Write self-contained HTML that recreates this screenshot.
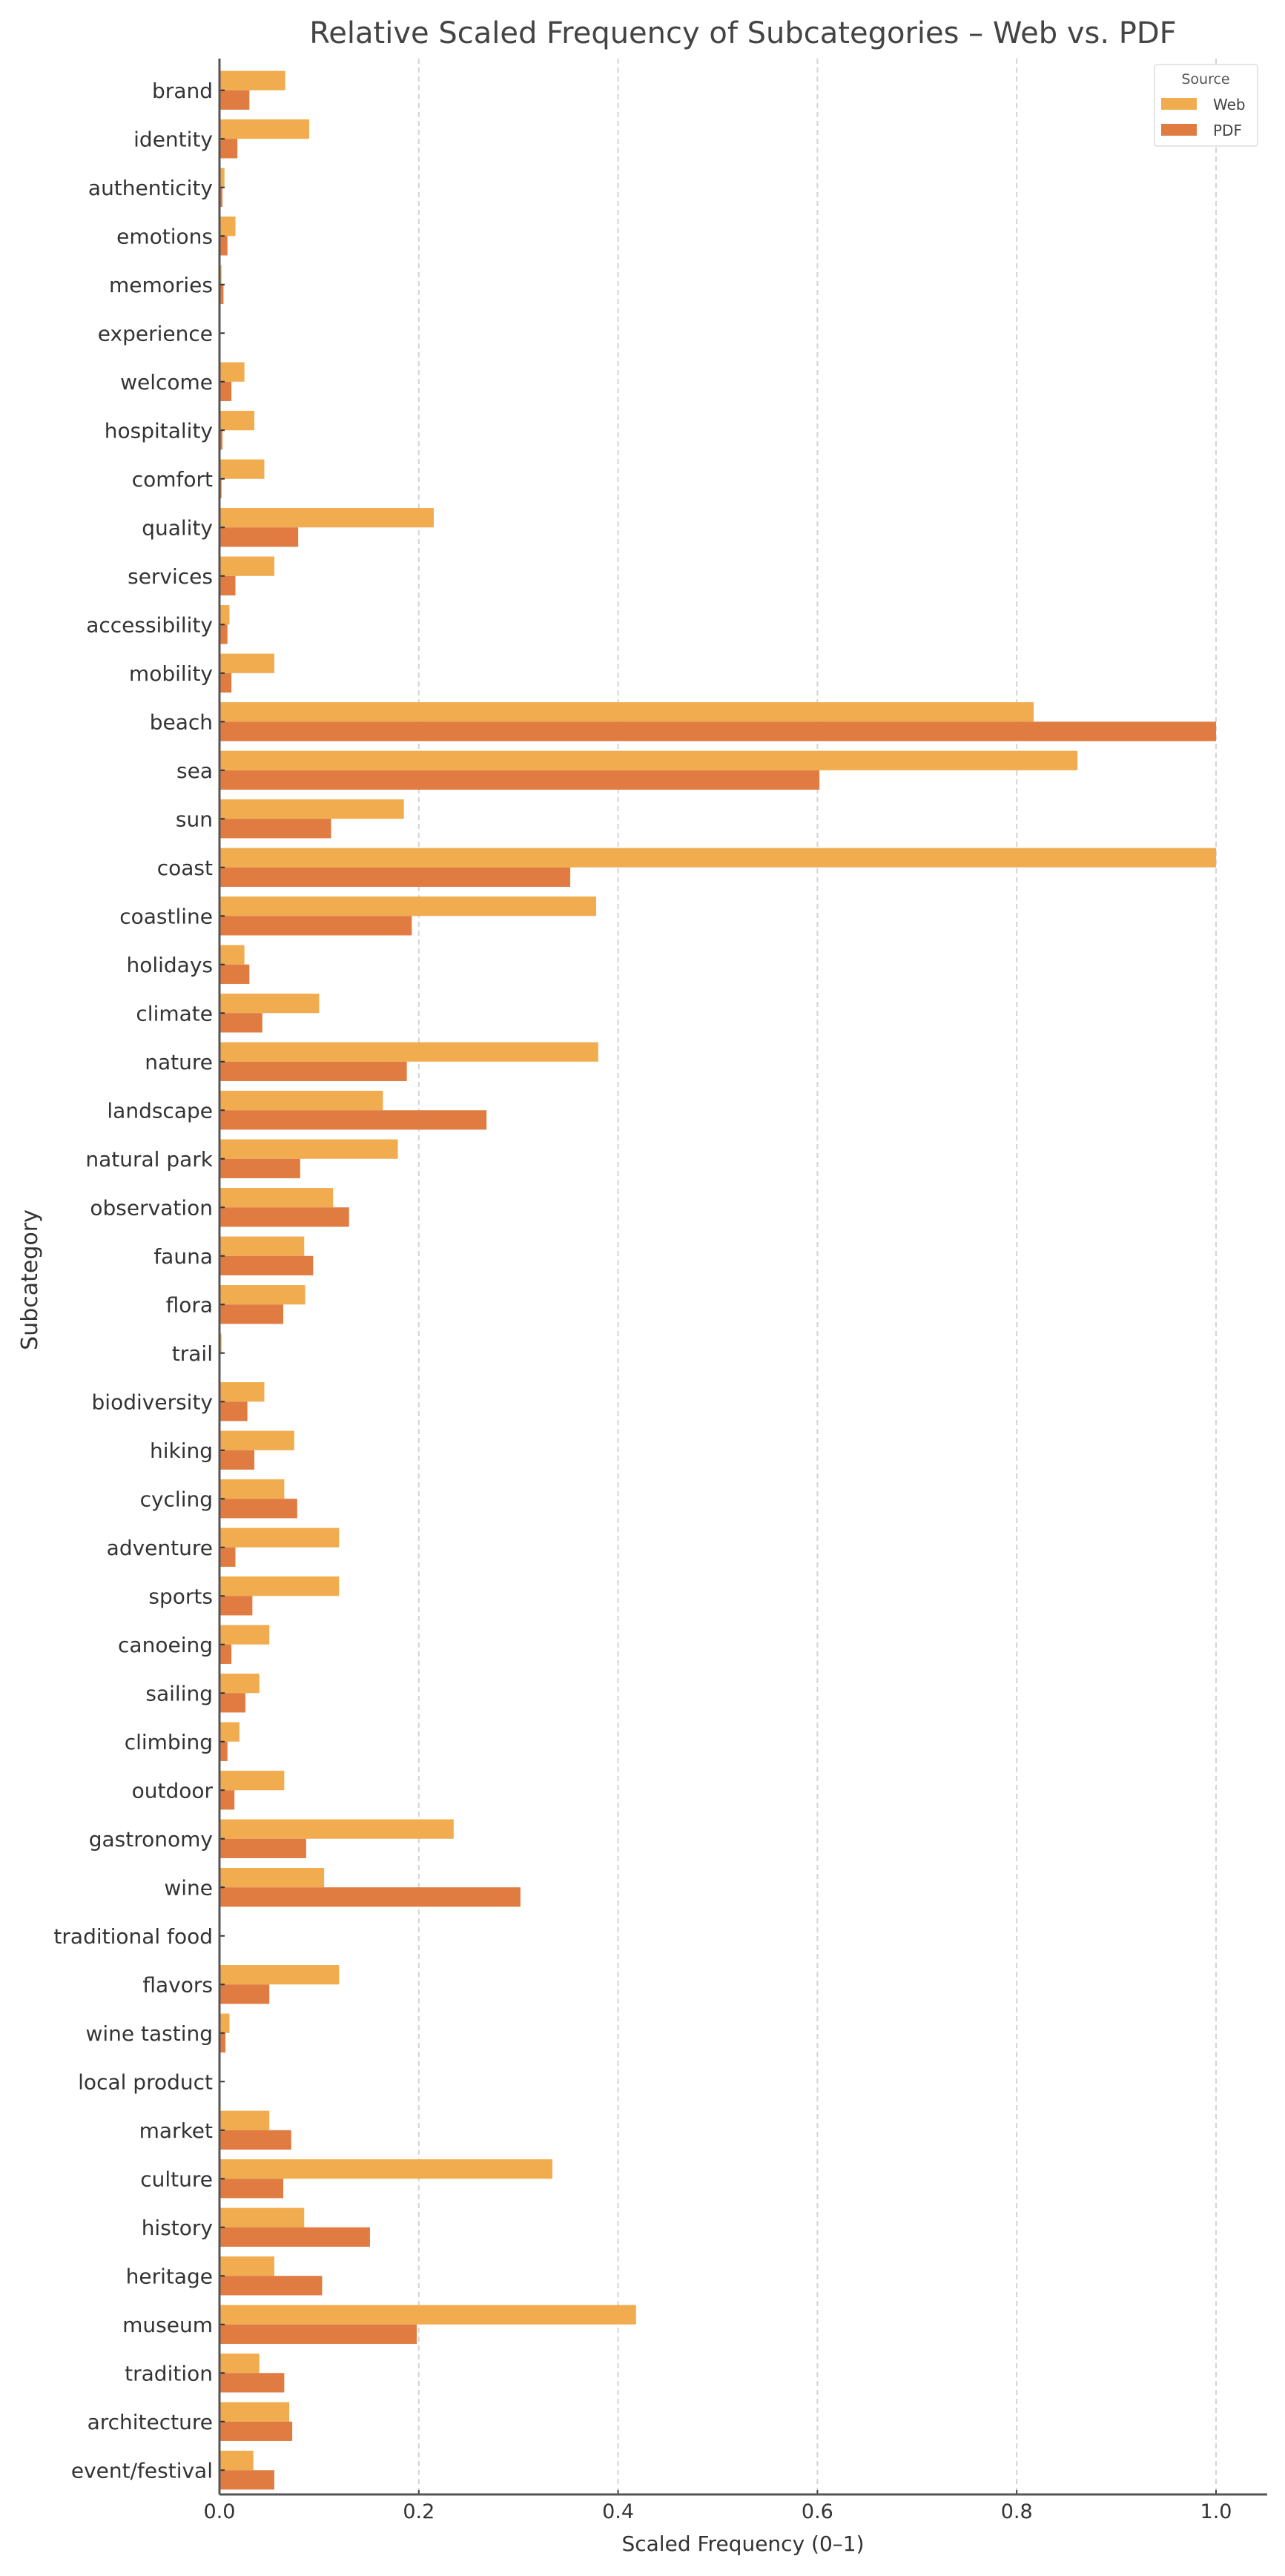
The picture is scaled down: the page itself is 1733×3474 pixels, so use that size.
<!DOCTYPE html>
<html><head><meta charset="utf-8"><style>
html,body{margin:0;padding:0;background:#fff;}
svg{display:block;font-family:"DejaVu Sans","Liberation Sans",sans-serif;}
</style></head><body>
<svg id="chart" width="1733" height="3474" viewBox="0 0 1733 3474" xmlns="http://www.w3.org/2000/svg">
<text x="1002" y="58" text-anchor="middle" font-size="40" fill="#444">Relative Scaled Frequency of Subcategories – Web vs. PDF</text>
<g id="grid"></g><g id="bars"></g><g id="axes"></g>
<text x="1002" y="3440" text-anchor="middle" font-size="28" fill="#333">Scaled Frequency (0–1)</text>
<text transform="translate(50,1726) rotate(-90)" text-anchor="middle" font-size="30" fill="#333">Subcategory</text>
<g>
<rect x="1557" y="87" width="139" height="110" fill="#fff" stroke="#ddd" stroke-width="1.5" rx="3"/>
<text x="1626" y="113" text-anchor="middle" font-size="19" fill="#555">Source</text>
<rect x="1566" y="132" width="48" height="16" fill="#f0ac4e"/>
<text x="1636" y="148" font-size="20" fill="#444">Web</text>
<rect x="1566" y="167" width="48" height="16" fill="#e07b42"/>
<text x="1636" y="183" font-size="20" fill="#444">PDF</text>
</g>
</svg>
<script>
const categories=["brand","identity","authenticity","emotions","memories","experience","welcome","hospitality","comfort","quality","services","accessibility","mobility","beach","sea","sun","coast","coastline","holidays","climate","nature","landscape","natural park","observation","fauna","flora","trail","biodiversity","hiking","cycling","adventure","sports","canoeing","sailing","climbing","outdoor","gastronomy","wine","traditional food","flavors","wine tasting","local product","market","culture","history","heritage","museum","tradition","architecture","event/festival"];
const webValues=[.066,.09,.005,.016,.002,.001,.025,.035,.045,.215,.055,.01,.055,.817,.861,.185,1.0,.378,.025,.1,.38,.164,.179,.114,.085,.086,.002,.045,.075,.065,.12,.12,.05,.04,.02,.065,.235,.105,.001,.12,.01,.001,.05,.334,.085,.055,.418,.04,.07,.034];
const pdfValues=[.03,.018,.003,.008,.004,.001,.012,.003,.002,.079,.016,.008,.012,1.0,.602,.112,.352,.193,.03,.043,.188,.268,.081,.13,.094,.064,.001,.028,.035,.078,.016,.033,.012,.026,.008,.015,.087,.302,.001,.05,.006,0,.072,.064,.151,.103,.198,.065,.073,.055];
const xTicks=[0,0.2,0.4,0.6,0.8,1.0];
const xTickLabels=["0.0","0.2","0.4","0.6","0.8","1.0"];

const NS="http://www.w3.org/2000/svg";
const L=296,R=1709,T=89,B=3364,X0=296,X1=1640;
const n=categories.length, band=(B-T)/n;
const xs=v=>X0+v*(X1-X0);
const yc=i=>T+band*(i+0.5);
function mk(tag,attrs,parent){const e=document.createElementNS(NS,tag);for(const k in attrs)e.setAttribute(k,attrs[k]);parent.appendChild(e);return e;}
const grid=document.getElementById('grid'),bars=document.getElementById('bars'),axes=document.getElementById('axes');
xTicks.forEach((t,i)=>{
  if(t>0){const g=mk('line',{x1:xs(t),x2:xs(t),y1:T-10,y2:B,stroke:'#d4d4d4','stroke-width':2,'stroke-dasharray':'7,5'},grid);
  
  }
  const tk=mk('line',{x1:xs(t),x2:xs(t),y1:B,y2:B-6,stroke:'#444','stroke-width':2},axes);
  
  
  const lb=mk('text',{x:xs(t),y:B+32,'text-anchor':'middle','font-size':27,fill:'#333'},axes);
  lb.textContent=xTickLabels[i];
  
  
});
const bh=band*0.4;
categories.forEach((c,i)=>{
  const w=mk('rect',{x:X0,y:yc(i)-bh,width:Math.max(0,xs(webValues[i])-X0),height:bh,fill:'#f0ac4e'},bars);
  
  
  const p=mk('rect',{x:X0,y:yc(i),width:Math.max(0,xs(pdfValues[i])-X0),height:bh,fill:'#e07b42'},bars);
  
  
  const tk=mk('line',{x1:L,x2:L+7,y1:yc(i),y2:yc(i),stroke:'#333','stroke-width':2},axes);
  
  
  const lb=mk('text',{x:L-9,y:yc(i)+10,'text-anchor':'end','font-size':28,fill:'#333'},axes);
  lb.textContent=c;
  
  
});
const ly=mk('line',{x1:L,x2:L,y1:T-10,y2:B,stroke:'#555','stroke-width':3},axes);


const lx=mk('line',{x1:L,x2:R,y1:B,y2:B,stroke:'#555','stroke-width':3},axes);


</script>
</body></html>
